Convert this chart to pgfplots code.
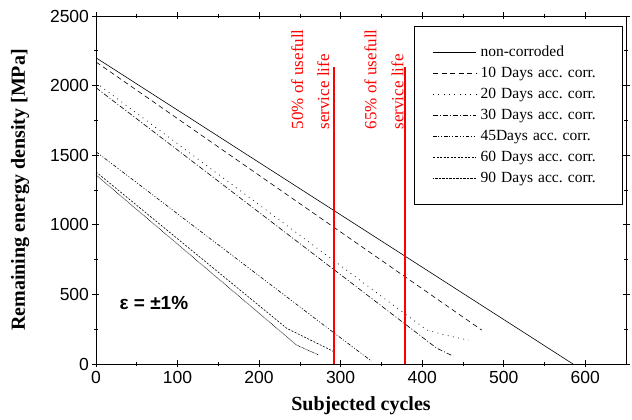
\documentclass[border=0pt]{standalone}
\usepackage{pgfplots}
\pgfplotsset{compat=1.18}
\usepackage{fontspec}
\setmainfont{Liberation Serif}
\setsansfont{Liberation Sans}
\frenchspacing

\begin{document}
\begin{tikzpicture}
\begin{axis}[
    scale only axis,
    width=530pt, height=348pt,
    xmin=0, xmax=650,
    ymin=0, ymax=2500,
    xtick={0,100,...,600},
    ytick={0,500,...,2500},
    minor x tick num=1,
    minor y tick num=1,
    tick align=center,
    major tick length=7pt,
    minor tick length=4pt,
    tick style={black, line width=0.6pt},
    axis line style={line width=0.8pt},
    /pgf/number format/assume math mode=true,
    /pgf/number format/1000 sep={},
    ticklabel style={font=\sffamily\fontsize{17.5}{19}\selectfont},
    xlabel={\bfseries Subjected cycles},
    ylabel={\bfseries Remaining energy density [MPa]},
    label style={font=\fontsize{20}{22}\selectfont},
    xlabel style={yshift=-6pt},
    ylabel style={yshift=14pt},
    legend cell align=left,
    legend image code/.code={\draw[#1] (0pt,0pt) -- (43pt,0pt);},
    legend style={at={(0.994,0.971)}, anchor=north east,
        font=\fontsize{15.5}{17}\selectfont, draw=black, line width=0.6pt,
        inner xsep=19pt, inner ysep=18pt, row sep=5pt, column sep=3pt,
        nodes={inner sep=1pt, text height=11pt, text depth=3pt},
        /tikz/every even column/.append style={text width=122pt, align=left}},
]
% non-corroded
\addplot[black, line width=0.6pt] coordinates {(0,2200) (585,0)};
\addlegendentry{non-corroded}
% 10 days
\addplot[black, line width=0.6pt, dash pattern=on 5pt off 3.5pt] coordinates {(0,2170) (473,244)};
\addlegendentry{10 Days acc. corr.}
% 20 days
\addplot[black, line width=0.7pt, dash pattern=on 0.8pt off 4.5pt] coordinates {(0,2020) (378,364) (406,244) (430,205) (457,172)};
\addlegendentry{20 Days acc. corr.}
% 30 days
\addplot[black, line width=0.6pt, dash pattern=on 5pt off 2pt on 1pt off 2pt] coordinates {(0,1985) (378,292) (418,113) (438,57)};
\addlegendentry{30 Days acc. corr.}
% 45 days
\addplot[black, line width=0.6pt, dash pattern=on 3.5pt off 1.8pt on 1pt off 1.8pt on 1pt off 1.8pt] coordinates {(0,1525) (292,223) (338,20)};
\addlegendentry{45Days acc. corr.}
% 60 days
\addplot[black, line width=0.6pt, dash pattern=on 2pt off 1.5pt] coordinates {(0,1380) (234,256) (292,88)};
\addlegendentry{60 Days acc. corr.}
% 90 days
\addplot[black, line width=0.6pt, dash pattern=on 0.7pt off 0.7pt] coordinates {(0,1358) (246,136) (273,65)};
\addlegendentry{90 Days acc. corr.}

% service life markers
\addplot[red, line width=1.5pt, forget plot] coordinates {(292,0) (292,2136)};
\addplot[red, line width=1.5pt, forget plot] coordinates {(379,0) (379,2136)};

\node[rotate=90, anchor=base west, text=red, font=\fontsize{17}{19}\selectfont] at (axis cs:254,1660) {50\% of usefull};
\node[rotate=90, anchor=base west, text=red, font=\fontsize{17}{19}\selectfont] at (axis cs:286,1660) {service life};
\node[rotate=90, anchor=base west, text=red, font=\fontsize{17}{19}\selectfont] at (axis cs:344,1660) {65\% of usefull};
\node[rotate=90, anchor=base west, text=red, font=\fontsize{17}{19}\selectfont] at (axis cs:377,1660) {service life};

\node[font=\sffamily\bfseries\fontsize{19}{21}\selectfont] at (axis cs:71,438) {ε = ±1\%};
\end{axis}
\path (current axis.south west) ++(-96pt,-56pt) rectangle ++(632pt,420pt);
\end{tikzpicture}
\end{document}
